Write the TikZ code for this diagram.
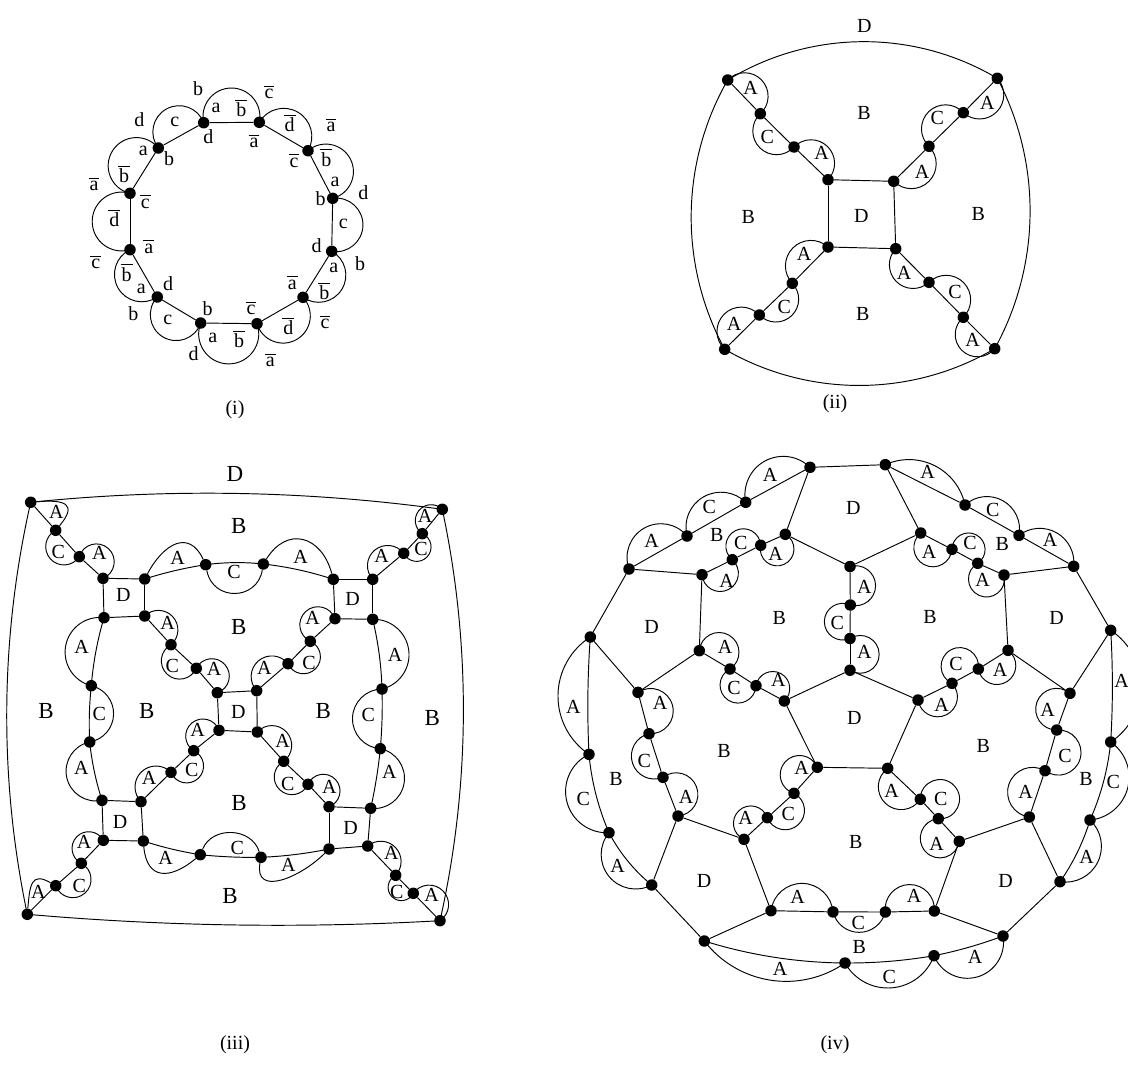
\documentclass[tikz,border=0pt]{standalone}
\usepackage{fontspec}
\setmainfont{Liberation Serif}
\newcount\labn
\tikzset{
  dot/.style={circle,fill=black,draw=none,inner sep=0pt,minimum size=11.5pt},
  lbl/.style={inner sep=0pt,font=\fontsize{20}{20}\selectfont},
  big/.style={inner sep=0pt,font=\fontsize{23}{23}\selectfont},
  wire/.style={line width=0.95pt,black},
}
\newcommand\pts[1]{\foreach \n/\px/\py in {#1}{\node[dot] (\n) at (\px,\py) {};}}
\newcommand\labs[1]{\foreach \px/\py/\t in {#1}{\global\advance\labn by 1 \node[lbl] (lab\the\labn) at (\px,\py) {\t};}}
\newcommand\biglabs[1]{\foreach \px/\py/\t in {#1}{\global\advance\labn by 1 \node[big] (lab\the\labn) at (\px,\py) {\t};}}
\newcommand\lines[1]{\foreach \a/\b in {#1}{\draw[wire] (\a) -- (\b);}}
% circular bulge from node to node; r = height / chord, r>0 to the left of the way a->b, r<0 to the right
\newcommand\cv[3]{%
 \path (#1.center); \pgfgetlastxy{\qxa}{\qya}%
 \path (#2.center); \pgfgetlastxy{\qxb}{\qyb}%
 \pgfmathsetmacro\qd{veclen(\qxb-\qxa,\qyb-\qya)}%
 \pgfmathsetmacro\qan{atan2(\qyb-\qya,\qxb-\qxa)}%
 \pgfmathsetmacro\qs{(#3>0)?1:-1}%
 \pgfmathsetmacro\qr{abs(#3)}%
 \pgfmathsetmacro\qal{2*atan(2*\qr)}%
 \pgfmathsetmacro\qR{\qd*(.25+\qr*\qr)/(2*\qr)}%
 \pgfmathsetmacro\qk{4/3*tan(\qal/4)*\qR}%
 \pgfmathsetmacro\qmx{(\qxa+\qxb)/2+\qs*\qr*\qd*cos(\qan+90)}%
 \pgfmathsetmacro\qmy{(\qya+\qyb)/2+\qs*\qr*\qd*sin(\qan+90)}%
 \pgfmathsetmacro\qcax{\qxa+\qk*cos(\qan+\qs*\qal)}%
 \pgfmathsetmacro\qcay{\qya+\qk*sin(\qan+\qs*\qal)}%
 \pgfmathsetmacro\qcbx{\qmx-\qk*cos(\qan)}%
 \pgfmathsetmacro\qcby{\qmy-\qk*sin(\qan)}%
 \pgfmathsetmacro\qccx{\qmx+\qk*cos(\qan)}%
 \pgfmathsetmacro\qccy{\qmy+\qk*sin(\qan)}%
 \pgfmathsetmacro\qcdx{\qxb+\qk*cos(\qan+180-\qs*\qal)}%
 \pgfmathsetmacro\qcdy{\qyb+\qk*sin(\qan+180-\qs*\qal)}%
 \draw[wire] (#1.center) .. controls (\qcax pt,\qcay pt) and (\qcbx pt,\qcby pt) .. (\qmx pt,\qmy pt)
   .. controls (\qccx pt,\qccy pt) and (\qcdx pt,\qcdy pt) .. (#2.center);%
}
\newcommand\cvs[1]{\foreach \a/\b/\rr in {#1}{\cv{\a}{\b}{\rr}}}
% barred letters: low bar over a, c; high bar over b, d
\newcommand\ov[1]{$\overline{\kern1pt\mbox{\rule{0pt}{11.5pt}#1}\kern1pt}$}
\newcommand\ovh[1]{$\overline{\kern1pt\mbox{\rule{0pt}{15.5pt}#1}\kern1pt}$}
\begin{document}
\begin{tikzpicture}[x=1pt,y=-1pt]
\useasboundingbox (0,0) rectangle (1128,1068);
\clip (0,0) rectangle (1128,1068);
% ---------- panel (i)
\pts{a1/203.7/122.7,a2/259.3/122.3,a3/308/150.7,a4/332.7/198.3,a5/331.7/251.3,a6/303/297.3,a7/257/323.7,a8/200.7/323,a9/157.3/297,a10/130/249.7,a11/130/193.3,a12/158.3/148}
\lines{a1/a2,a2/a3,a3/a4,a4/a5,a5/a6,a6/a7,a7/a8,a8/a9,a9/a10,a10/a11,a11/a12,a12/a1}
\cvs{a1/a2/.62,a2/a3/.5,a3/a4/.63,a4/a5/.58,a5/a6/.53,a6/a7/.63,a7/a8/.72,a8/a9/.62,a9/a10/.54,a10/a11/.67,a11/a12/.70,a12/a1/.58}
\labs{216/108.3/a,241.3/108.3/\ovh{b},289.7/123.3/\ovh{d},331/125/\ov{a},326.3/157.7/\ovh{b},335/181.7/a,363.3/192.3/d,343.3/224/c,360/263.3/b,316.7/245.7/d,320.7/198.3/b,333.7/267.7/a,324.3/291/\ovh{b},292.3/282.7/\ov{a},325/322.3/\ov{c},288.3/326/\ovh{d},251/308.3/\ov{c},239/339/\ovh{b},270.3/360/\ov{a},207.7/308.3/b,212.7/338.3/a,193.7/354/d,167.7/320/c,133.3/314/b,168/284/d,141.3/289.3/a,126.7/272.7/\ovh{b},95.7/262.3/\ov{c},148.7/246.7/\ov{a},114.3/218.3/\ovh{d},94/184.3/\ov{a},124/174/\ovh{b},145.3/201.7/\ov{c},143.3/151/a,169/159/b,139.3/119.3/d,174.7/122.3/c,208.3/136.7/d,254/141/\ov{a},294/160.7/\ov{c},198/88.5/b,269/92/\ov{c}}
\labs{235/410/(i)}
% ---------- panel (ii)
\pts{bTL/727.7/80,b1/760.3/113.7,b2/794/147,bS1/828/179.7,bS2/893.7/181.3,b3/929/146.3,b4/963.3/112.7,bTR/997.3/78.3,bS3/828/247,b5/792.3/283.3,b6/759.3/315,bBL/724.7/349.3,bS4/895.7/248.7,b7/929/282.3,b8/963.3/317.3,bBR/994.7/348.7}
\lines{bTL/b1,b1/b2,b2/bS1,bS1/bS2,bS2/b3,b3/b4,b4/bTR,bS1/bS3,bS2/bS4,bS3/bS4,bS3/b5,b5/b6,b6/bBL,bS4/b7,b7/b8,b8/bBR}
\cvs{bTL/bTR/.139,bTR/bBR/.126,bBR/bBL/.135,bBL/bTL/.13,bTL/b1/.52,b1/b2/-.52,b2/bS1/.5,bS2/b3/-.5,b3/b4/.52,b4/bTR/-.48,bS3/b5/-.48,b5/b6/.5,b6/bBL/-.52,bS4/b7/-.48,b7/b8/.5,b8/bBR/-.55}
\labs{864.3/25.7/D,750.7/87.7/A,767.3/136.7/C,821.7/153.3/A,864/113.3/B,937.3/118.3/C,987.3/103.3/A,922/171.7/A,748.3/216.7/B,861.3/215.7/D,978.3/214/B,804/254.3/A,784.3/306.7/C,734/324.3/A,904/272.7/A,955/291.7/C,972.7/340/A,862.7/314/B,835/404/(ii)}
% ---------- panel (iii)
\pts{cTL/30.7/502.3,c1/55.7/530.3,c2/79.3/556.7,cA1/103/578.3,cA2/144.7/579,cA3/144.7/616,cA4/104/617.7,c3/205.7/564.7,c4/263.3/564,cB1/333.3/579.3,cB2/372.7/579.3,cB3/372.7/619.3,cB4/335/618.7,c5/403.7/553.3,c6/422.3/533.7,cTR/442.3/509.3,c7/171/644.7,c8/196.3/668.3,cM1/217.3/692.7,cM2/256.7/690.7,cM3/257.3/732,cM4/219/730.3,c9/288/663.7,c10/310.3/641.3,c11/91.3/685.7,c12/89.7/742,c13/382/689,c14/380.3/748.7,cC1/102/800.3,cC2/141/801.7,cC3/143.3/841,cC4/103.3/840.3,cD1/329/806.7,cD2/370.7/808.3,cD3/367.7/846,cD4/329/849,c15/193.7/750.7,c16/171/772.3,c17/283.7/761.3,c18/308/784.3,c19/81.3/863.3,c20/55.7/885.7,cBL/27.3/914.3,c21/200.3/854.7,c22/261/857.3,c23/395.7/875.3,c24/413.3/893.3,cBR/440/920.7}
\lines{cTL/c1,c1/c2,c2/cA1,cA1/cA2,cA2/cA3,cA3/cA4,cA4/cA1,cB1/cB2,cB2/cB3,cB3/cB4,cB4/cB1,cB2/c5,c5/c6,c6/cTR,cA3/c7,c7/c8,c8/cM1,cM1/cM2,cM2/cM3,cM3/cM4,cM4/cM1,cM2/c9,c9/c10,c10/cB4,cC1/cC2,cC2/cC3,cC3/cC4,cC4/cC1,cD1/cD2,cD2/cD3,cD3/cD4,cD4/cD1,cM4/c15,c15/c16,c16/cC2,cM3/c17,c17/c18,c18/cD1,cC4/c19,c19/c20,c20/cBL,cD3/c23,c23/c24,c24/cBR}
\cvs{cTL/cTR/.03,cTR/cBR/.054,cBR/cBL/.018,cBL/cTL/.054,
 c1/c2/-.65,c2/cA1/.8,cA3/c7/.52,c7/c8/-.7,c8/cM1/.75,cB2/c5/.52,c5/c6/-.72,c6/cTR/.55,cM2/c9/.52,c9/c10/-.73,c10/cB4/.75,
 cA4/c11/-.47,c11/c12/.41,c12/cC1/-.5,cB3/c13/.45,c13/c14/-.48,c14/cD2/.48,cM4/c15/-.7,c15/c16/.74,c16/cC2/-.5,cM3/c17/.55,c17/c18/-.7,c18/cD1/.76,cC4/c19/-.68,c19/c20/.73,cD3/c23/.47,c23/c24/-.7,c24/cBR/.6,
 cA4/c11/-.026,c11/c12/-.02,c12/cC1/-.026,cB3/c13/.026,c13/c14/.015,c14/cD2/.015,cA2/c3/.02,c3/c4/.03,c4/cB1/.026,cC3/c21/-.02,c21/c22/-.015,c22/cD4/-.02}
\draw[wire] (cTL) to[out=5,in=50,looseness=2.2] (c1);
\draw[wire] (c20) to[out=150,in=85,looseness=1.7] (cBL);
\draw[wire] (cA2) to[out=62,in=115,looseness=1.5] (c3);
\draw[wire] (c3) to[bend right=80,looseness=1.45] (c4);
\draw[wire] (c4) to[out=58,in=105,looseness=1.5] (cB1);
\draw[wire] (cC3) to[out=-85,in=-140,looseness=1.6] (c21);
\draw[wire] (c21) to[bend left=70,looseness=1.15] (c22);
\draw[wire] (c22) to[out=-100,in=-135,looseness=1.35] (cD4);
\labs{56.3/512.3/A,58.3/551.7/C,99.3/553.3/A,123.3/595/D,177.7/557.7/A,234/572.3/C,167.7/622.7/A,172.3/666/C,214/669/A,81.7/646.7/A,425/515.7/A,421/549/C,381.7/556/A,300.7/557.3/A,352.7/599/D,312.7/618.3/A,309/662.7/C,264.3/667.7/A,395/655/A,99.3/714.3/C,238.3/711.7/D,197.7/730/A,191.7/770/C,149/777.7/A,81.3/767.7/A,120/821.7/D,84/841.7/A,79.3/886/C,38.3/892.3/A,165.7/858.3/A,237.3/847.7/C,368.3/715/C,282.7/740.7/A,287.7/784/C,329.3/786.7/A,389.3/771.7/A,350.7/827.7/D,391.3/853.3/A,396.7/892.3/C,431.7/895/A,288.3/865/A,235/1045/(iii)}
\biglabs{235/474/D,238.7/526/B,238.7/626.7/B,46/710.7/B,146.7/710.7/B,239/802.7/B,230/895.7/B,323.3/710.7/B,432.3/718.3/B}
% ---------- panel (iv)
\pts{d1/810/467.3,d2/745.7/502.3,d3/687/536,d4/629/569,d5/590.3/637,d6/702/574.7,d7/732.3/559.7,d8/760.7/545.3,d9/785.3/534.3,d10/850/566.5,d11/699.3/650.7,d12/730/669,d13/756/685.7,d14/784.3/701,d15/850/670.2,d16/638/692.3,d17/850.3/605,d18/850/638.5,
e1/885.3/464.7,e2/965/505,e3/1019/535.3,e4/1073.7/566.3,e5/1110.7/630.3,e6/1004/575,e7/977.7/563.3,e8/952/549.3,e9/920.7/533,e11/1008/650.3,e12/978.3/669,e13/952/683.3,e14/918/700,e16/1070/693.3,e17/1056.7/730,e18/1045/770.7,e19/1029.3/817,e20/1110.7/742,e21/1090/820,e22/1060/881.7,
d19/649/733.7,d20/663/777.3,d21/678/816,d22/589/754.3,d23/609/832.7,d24/651.7/885,d25/817.3/767.3,d26/794/793.3,d27/767.3/817.7,d28/744/839.3,d29/771/910.7,d30/833/911.9,d31/704.3/941,d32/845/963,
e25/887.7/768.3,e26/920.3/799.3,e27/938.3/818.7,e28/959.3/841.3,e29/934.3/911,e30/885.3/912,e31/1003/936,e32/934/955.7}
\lines{d1/e1,d1/d9,e1/e9,d9/d10,d10/e9,d1/d2,d2/d3,d3/d4,e1/e2,e2/e3,e3/e4,d4/d6,d6/d7,d7/d8,d8/d9,e4/e6,e6/e7,e7/e8,e8/e9,d4/d5,e4/e5,d5/d16,d16/d11,d11/d6,e5/e16,e16/e11,e11/e6,d11/d12,d12/d13,d13/d14,e11/e12,e12/e13,e13/e14,d14/d15,d15/e14,d15/d18,d18/d17,d17/d10,d14/d25,e14/e25,d25/e25,d16/d19,d19/d20,d20/d21,e16/e17,e17/e18,e18/e19,d21/d24,d21/d28,e19/e22,e19/e28,d24/d31,e22/e31,d28/d29,e28/e29,d29/d31,e29/e31,d29/d30,d30/e30,e30/e29,d28/d27,d27/d26,d26/d25,e25/e26,e26/e27,e27/e28}
\cvs{d4/d3/.42,d3/d2/.38,d2/d1/.37,e1/e2/.24,e2/e3/.36,e3/e4/.33,
 d6/d7/-.74,d7/d8/.77,d8/d9/-1.0,d11/d12/.8,d12/d13/-.88,d13/d14/.7,
 e6/e7/1.0,e7/e8/-.83,e8/e9/.75,e11/e12/.74,e12/e13/-1.0,e13/e14/.68,
 d15/d18/-.92,d18/d17/.77,d17/d10/-.66,
 d16/d19/.7,d19/d20/-.54,d20/d21/.67,e16/e17/-.72,e17/e18/.72,e18/e19/-.61,
 d5/d22/-.27,d22/d23/-.41,d23/d24/-.41,d5/d22/-.015,d22/d23/-.04,d23/d24/-.05,
 e5/e20/.27,e20/e21/.35,e21/e22/.37,e5/e20/.015,e20/e21/.04,e21/e22/.04,
 d28/d27/.77,d27/d26/-.72,d26/d25/.79,e25/e26/-.6,e26/e27/1.29,e27/e28/-1.03,
 d29/d30/.45,d30/e30/-.39,e30/e29/.55,
 d31/d32/-.2,d31/d32/-.037,d32/e32/-.32,d32/e32/-.022,e32/e31/-.45,e32/e31/-.02}
\labs{770/475/A,709.3/506.7/C,651.7/541/A,716.7/535/B,740.7/543.3/C,775.7/554/A,726.7/581/A,651.7/626.7/D,779.3/618.3/B,837.3/622.7/C,725/646.7/A,734/688.3/C,778.3/680/A,660/703.3/A,573.3/706.7/A,927.7/472.3/A,992.7/510/C,1050/540/A,853.3/507.7/D,1002.3/544/B,970/543.3/C,929/551.7/A,982.7/580/A,864.3/587.3/A,930/616.7/B,1056.7/617.7/D,956/664/C,1000/670/A,864.3/651.7/A,941.7/705/A,854.3/718.3/D,1047.7/710/A,1121.7/680.7/A,644.3/760.7/C,724/750.7/B,686/797.3/A,616/779/B,583.3/799/C,617.7/865.7/A,801.7/767.7/A,788.3/814.3/C,745.7/818.3/A,704/881/D,797.7/896.7/A,780/969.3/A,983.3/745.7/B,1065/756/C,1086/779/B,1113.3/781.7/C,1025.7/791.7/A,1086.7/856.7/A,891.7/790.7/A,940.7/799.3/C,936.7/844/A,855.7/842.3/B,1005.7/881/D,914/895.7/A,858.3/923.3/C,859.3/946.7/B,975/957.3/A,889.3/976.7/C,835/1045/(iv)}
\end{tikzpicture}
\end{document}
